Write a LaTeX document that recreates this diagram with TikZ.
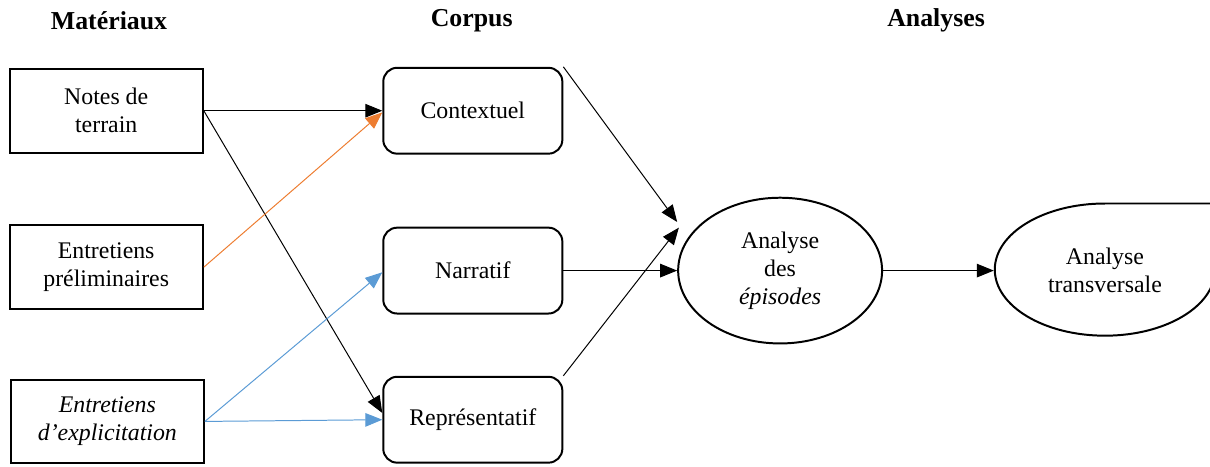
\documentclass[tikz,border=0pt]{standalone}
\usepackage{fontspec}
\setmainfont{Liberation Serif}
\usepackage{tikz}
\usetikzlibrary{arrows.meta,shapes.geometric}
\definecolor{lienOrange}{HTML}{ED7D31}
\definecolor{lienBleu}{HTML}{5B9BD5}

\begin{document}
\begin{tikzpicture}[every node/.style={font=\fontsize{12}{14}\selectfont},
  boite/.style={draw,line width=1pt,minimum width=3.42cm,minimum height=1.48cm,align=center},
  corpusboite/.style={draw,line width=1pt,rounded corners=7pt,minimum width=3.17cm,minimum height=1.52cm,align=center},
  ovale/.style={draw,ellipse,line width=1pt,align=center,inner sep=0pt},
  titre/.style={font=\fontsize{13}{15}\selectfont\bfseries},
  fleche/.style={-{Triangle[length=0.3cm,width=0.24cm]},line width=0.5pt}]
\useasboundingbox (0,0) rectangle (21.42,-8.25);
\clip (0,0) rectangle (21.42,-8.25);
% titres
\node[titre] (tm) at (1.93,-0.36) {Matériaux};
\node[titre] (tc) at (8.35,-0.36) {Corpus};
\node[titre] (ta) at (16.57,-0.36) {Analyses};
% materiaux
\node[boite] (notes) at (1.88,-1.96) {Notes de\\ terrain};
\node[boite] (prelim) at (1.88,-4.73) {Entretiens\\ préliminaires};
\node[boite] (explic) at (1.90,-7.46) {\itshape Entretiens\\ \itshape d’explicitation};
% corpus
\node[corpusboite] (ctx) at (8.37,-1.96) {Contextuel};
\node[corpusboite] (nar) at (8.37,-4.79) {Narratif};
\node[corpusboite] (rep) at (8.37,-7.43) {Représentatif};
% analyses
\node[ovale,minimum width=3.61cm,minimum height=2.58cm] (ana) at (13.81,-4.79) {Analyse\\ des\\ \itshape épisodes};
\node[ovale,draw=none,minimum width=3.9cm,minimum height=2.34cm] (trans) at (19.56,-4.79) {Analyse\\ transversale};
% forme en goutte, coupee au bord
\draw[line width=1pt] (trans.north) arc[start angle=90,end angle=360,x radius=1.95cm,y radius=1.17cm]
  -- (trans.east |- trans.north) -- cycle;
\coordinate (entreeA) at ([shift={(0,0.86)}]ana.west);
\coordinate (entreeB) at ([shift={(0.03,0.76)}]ana.west);
% liens
\draw[fleche] (notes.east) -- (ctx.west);
\draw[fleche] (notes.east) -- ([yshift=0.12cm]rep.west);
\draw[fleche,lienOrange] (prelim.east) -- ([yshift=-0.03cm]ctx.west);
\draw[fleche,lienBleu] (explic.east) -- ([yshift=-0.03cm]nar.west);
\draw[fleche,lienBleu] (explic.east) -- (rep.west);
\draw[fleche] (ctx.north east) -- (entreeA);
\draw[fleche] (nar.east) -- (ana.west);
\draw[fleche] (rep.north east) -- (entreeB);
\draw[fleche] (ana.east) -- (trans.west);
\end{tikzpicture}
\end{document}
